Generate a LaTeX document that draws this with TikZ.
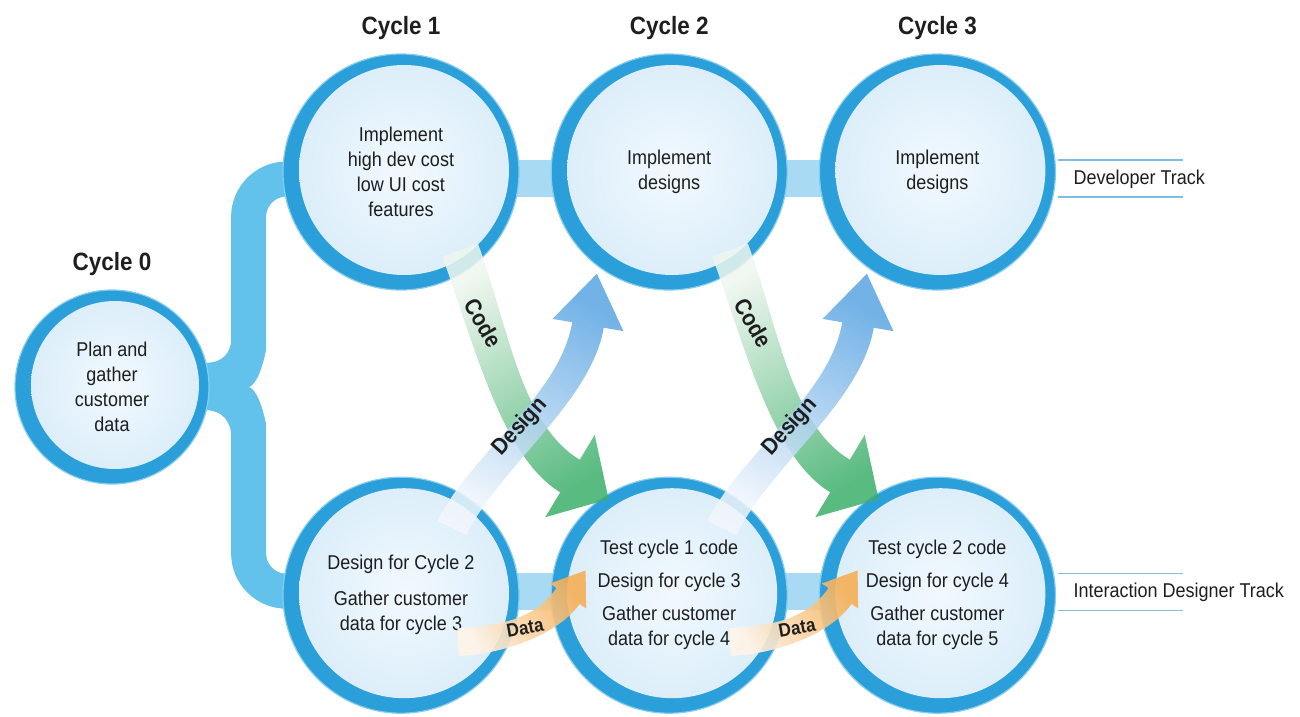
\documentclass[tikz,border=0pt]{standalone}
\usepackage{fontspec}
\setmainfont{Liberation Sans}[FakeStretch=0.9]
\usepackage{xcolor}
\usetikzlibrary{positioning,calc,backgrounds}
\definecolor{Ink}{HTML}{1E1E1E}
\definecolor{RingBlue}{HTML}{2A9FDA}
\definecolor{RingLight}{HTML}{86CCEF}
\definecolor{CircleIn}{HTML}{F2F9FE}
\definecolor{CircleOut}{HTML}{DCEEFA}
\definecolor{Bracket}{HTML}{62C2EC}
\definecolor{Band}{HTML}{A8DBF3}
\definecolor{TrackLine}{HTML}{7DBFE3}
\definecolor{CodeGreen}{HTML}{3DAF6B}
\definecolor{CodePale}{HTML}{EEF6EE}
\definecolor{DesignBlue}{HTML}{5AA5E2}
\definecolor{DesignPale}{HTML}{F2F6FC}
\definecolor{DataOrange}{HTML}{F5AE55}
\definecolor{DataPale}{HTML}{FFF4E8}

% bent arrow: style, four curve points, half width, head half width, head length
\newcommand{\flowarrow}[8]{%
  \path (#2) coordinate (p0) (#3) coordinate (p1) (#4) coordinate (p2) (#5) coordinate (p3);
  \path[#1] ($(p0)!#6!90:(p1)$) .. controls ($(p1)!#6!-90:(p0)$) and ($(p2)!#6!90:(p3)$) .. ($(p3)!#6!-90:(p2)$)
    -- ($(p3)!#7!-90:(p2)$) -- ($(p3)!#8!180:(p2)$) -- ($(p3)!#7!90:(p2)$) -- ($(p3)!#6!90:(p2)$)
    .. controls ($(p2)!#6!-90:(p3)$) and ($(p1)!#6!90:(p0)$) .. ($(p0)!#6!-90:(p1)$) -- cycle;}

\begin{document}
\begin{tikzpicture}[x=1pt,y=-1pt,node distance=31pt]
\tikzset{lens/.style={circle,minimum size=#1,inner sep=0pt,align=center,text=Ink,font={\fontsize{20}{25}\selectfont},draw=RingLight,line width=1.2pt,
    path picture={\fill[RingBlue] (path picture bounding box.south west) rectangle (path picture bounding box.north east);
      \shade[inner color=CircleIn,outer color=CircleOut] ($(path picture bounding box.center)+(3,-2)$) circle [radius=#1/2-13pt];}},
  cyclehead/.style={font={\fontsize{25}{30}\selectfont\bfseries},text=Ink},
  tracklabel/.style={font={\fontsize{20}{24}\selectfont},text=Ink,anchor=west},
  trackline/.style={TrackLine,line width=1.4pt},
  band/.style={fill=Band},
  bracket/.style={Bracket,line width=35pt},
  arrowlabel/.style={font={\fontsize{23}{26}\selectfont\bfseries},text=Ink},
  codearrow/.style={top color=CodePale,bottom color=CodeGreen,shading angle=32,fill opacity=.85},
  designarrow/.style={top color=DesignBlue,bottom color=DesignPale,shading angle=-30,fill opacity=.85},
  dataarrow/.style={top color=DataOrange,bottom color=DataPale,shading angle=-60,fill opacity=.9}}
\useasboundingbox (0,0) rectangle (1300,716);

% circles
\node[lens=194pt] (c0) at (112,387) {Plan and\\gather\\customer\\data};
\node[lens=236pt] (t1) at (401,172) {Implement\\high dev cost\\low UI cost\\features};
\node[lens=236pt,right=of t1] (t2) {Implement\\designs};
\node[lens=236pt,right=of t2] (t3) {Implement\\designs};
\node[lens=236pt,below=186pt of t1] (b1) {Design for Cycle 2\\[11pt]Gather customer\\data for cycle 3};
\node[lens=236pt,right=of b1] (b2) {Test cycle 1 code\\[8pt]Design for cycle 3\\[8pt]Gather customer\\data for cycle 4};
\node[lens=236pt,right=of b2] (b3) {Test cycle 2 code\\[8pt]Design for cycle 4\\[8pt]Gather customer\\data for cycle 5};

\node[cyclehead,above=10pt of c0] (h0) {Cycle 0};
\node[cyclehead,above=10pt of t1] (h1) {Cycle 1};
\node[cyclehead,above=10pt of t2] (h2) {Cycle 2};
\node[cyclehead,above=10pt of t3] (h3) {Cycle 3};

% bracket and track bands behind the circles
\begin{pgfonlayer}{background}
\coordinate (brace) at ($(c0.east)+(39,0)$);
\draw[bracket,rounded corners=38pt] ($(t1.center)+(0,7)$) -| (brace) |- ($(b1.center)+(0,-4)$);
\fill[Bracket,shift={(brace)}] (-45,-24) .. controls (-25,-24) and (-17,-34) .. (-17,-52) -- (0,-52) -- (0,53)
  -- (-17,53) .. controls (-17,35) and (-25,23) .. (-45,23) -- cycle;
\fill[white,shift={(brace)}] (18,-39) .. controls (14,-19) and (8,-3) .. (1,0) .. controls (8,3) and (14,19) .. (18,39) -- cycle;
\fill[band] ($(t1.center)+(0,-12)$) rectangle ($(t3.center)+(0,25)$);
\fill[band] ($(b1.center)+(0,-22)$) rectangle ($(b3.center)+(0,15)$);
\end{pgfonlayer}

% tracks
\draw[trackline] ($(t3.east)+(2,-12)$) -- ++(125,0);
\draw[trackline] ($(t3.east)+(2,25)$) -- ++(125,0);
\node[tracklabel] (dev) at ($(t3.east)+(14,7)$) {Developer Track};
\draw[trackline] ($(b3.east)+(2,-22)$) -- ++(125,0);
\draw[trackline] ($(b3.east)+(2,15)$) -- ++(125,0);
\node[tracklabel] (ixd) at ($(b3.east)+(14,-3)$) {Interaction Designer Track};

% hand-offs between the two tracks
\foreach \dx in {0,270} {
  \begin{scope}[xshift=\dx pt]
    \flowarrow{codearrow}{460,250}{490,330}{510,440}{570,476}{19pt}{48pt}{45pt}
    \flowarrow{designarrow}{452,528}{485,460}{575,400}{588,325}{16pt}{36pt}{52pt}
    \node[arrowlabel,rotate=-60] at (483,323) {Code};
    \node[arrowlabel,rotate=48] at (520,427) {Design};
  \end{scope}
}
\foreach \dx in {0,272} {
  \begin{scope}[xshift=\dx pt]
    \flowarrow{dataarrow}{458,642}{505,640}{548,625}{568,596}{14pt}{22pt}{31pt}
    \node[arrowlabel,font={\fontsize{19}{22}\selectfont\bfseries},rotate=10] at (525,628) {Data};
  \end{scope}
}
\end{tikzpicture}
\end{document}
